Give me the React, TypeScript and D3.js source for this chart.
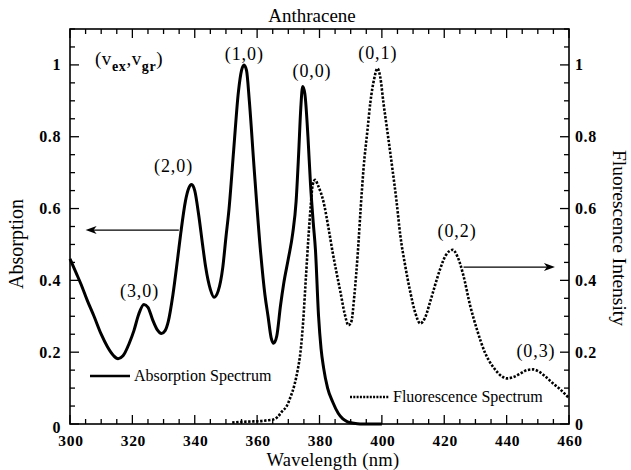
import React from "react";
import * as d3 from "d3";

// ---- data ----
const absWl = [300, 302, 303.5, 305.5, 307.7, 310, 312, 314, 315.4, 317, 319, 320.5, 322, 323.7, 325, 326.5, 328, 329.3, 330.5, 331.5, 333, 334.5, 335.5, 337, 338, 339, 340, 341.3, 342.5, 343.5, 345, 346.2, 347.5, 349, 350, 351, 352.5, 354, 355, 355.8, 356.6, 357.5, 359, 361, 362.5, 363.5, 364.5, 365.3, 366.3, 367.5, 368.5, 370, 371.4, 372.5, 373.3, 374, 374.6, 375.3, 376.3, 377.1, 378, 378.7, 379.7, 380.5, 381.3, 382.6, 384.2, 386, 387.5, 389, 391, 393, 396, 400];
const absVal = [0.46, 0.42, 0.39, 0.345, 0.3, 0.25, 0.215, 0.19, 0.182, 0.19, 0.225, 0.26, 0.305, 0.333, 0.325, 0.29, 0.262, 0.252, 0.26, 0.285, 0.36, 0.46, 0.53, 0.62, 0.655, 0.667, 0.65, 0.58, 0.5, 0.437, 0.375, 0.353, 0.37, 0.437, 0.52, 0.6, 0.765, 0.925, 0.985, 1.0, 0.985, 0.9, 0.717, 0.49, 0.36, 0.3, 0.24, 0.225, 0.245, 0.33, 0.39, 0.46, 0.53, 0.62, 0.75, 0.88, 0.94, 0.92, 0.8, 0.67, 0.56, 0.485, 0.3, 0.21, 0.157, 0.1, 0.062, 0.03, 0.014, 0.006, 0.002, 0, 0, 0];

const fluWl = [352, 355, 358, 361, 363, 365, 366.6, 368, 369.5, 370.7, 372, 373, 373.9, 374.8, 375.5, 376.5, 377.2, 377.8, 378.6, 379.5, 381.3, 383, 384.2, 385.5, 386.7, 388, 389.3, 390.2, 391.2, 392.3, 393.2, 394.1, 395.4, 396.3, 397.5, 398.6, 399.5, 400.5, 402, 403.4, 404.7, 405.9, 407.5, 409.1, 410.7, 412.3, 413.8, 415.5, 417, 418.7, 420.5, 422.7, 424.3, 426.1, 428.3, 430.6, 433, 436, 438.6, 440.2, 442, 444.3, 446.5, 448.5, 450.5, 453, 455, 457.1, 460];
const fluVal = [0.004, 0.006, 0.007, 0.008, 0.01, 0.012, 0.02, 0.035, 0.05, 0.075, 0.11, 0.15, 0.2, 0.29, 0.388, 0.526, 0.61, 0.665, 0.68, 0.665, 0.618, 0.54, 0.479, 0.42, 0.368, 0.31, 0.275, 0.285, 0.36, 0.479, 0.6, 0.709, 0.82, 0.895, 0.96, 0.99, 0.965, 0.895, 0.8, 0.709, 0.62, 0.526, 0.44, 0.368, 0.31, 0.28, 0.295, 0.341, 0.385, 0.432, 0.47, 0.485, 0.465, 0.415, 0.33, 0.26, 0.2, 0.155, 0.132, 0.127, 0.13, 0.14, 0.15, 0.152, 0.145, 0.128, 0.112, 0.097, 0.072];

const xTicks = [300, 320, 340, 360, 380, 400, 420, 440, 460];
const yTicks = [0, 0.2, 0.4, 0.6, 0.8, 1];
const yTickLabels = ["0", "0.2", "0.4", "0.6", "0.8", "1"];

const peakLabels = ["(3,0)", "(2,0)", "(1,0)", "(0,0)", "(0,1)", "(0,2)", "(0,3)"];
const peakLabelWl = [322.3, 333.2, 355.9, 377.6, 398.7, 424.1, 449.4];
const peakLabelVal = [0.354, 0.702, 1.014, 0.967, 1.017, 0.521, 0.187];

const FONT = "'Liberation Serif', 'Times New Roman', serif";

export default function App() {
  const L = 70, R = 569, T = 29, B = 424;
  const x = d3.scaleLinear().domain([300, 460]).range([L, R]);
  const yL = d3.scaleLinear().domain([0, 1.1]).range([B, T]);
  const yR = d3.scaleLinear().domain([0, 1.1]).range([B, T]);

  const absData = absWl.map((w, i) => [w, absVal[i]] as [number, number]);
  const fluData = fluWl.map((w, i) => [w, fluVal[i]] as [number, number]);

  const absLine = d3.line<[number, number]>().x(d => x(d[0])).y(d => yL(d[1])).curve(d3.curveMonotoneX);
  const fluLine = d3.line<[number, number]>().x(d => x(d[0])).y(d => yR(d[1])).curve(d3.curveMonotoneX);

  const xMinor = d3.range(300, 460.01, 5);
  const yMinor = d3.range(0, 1.1001, 0.05);
  const isMajorX = (v: number) => Math.abs(v % 20) < 1e-6;
  const isMajorY = (v: number) => Math.abs(Math.round(v * 100) % 20) < 1e-6;

  const arrowHead = (px: number, py: number, dir: number) => {
    const len = 11, half = 4;
    return `M${px},${py} L${px - dir * len},${py - half} L${px - dir * (len - 3)},${py} L${px - dir * len},${py + half} Z`;
  };

  const lArrow = { x1: x(334.9), x2: x(305), y: yL(0.54) };
  const rArrow = { x1: x(426.2), x2: x(455.5), y: yR(0.437) };

  return (
    <svg width={631} height={470} style={{ position: "absolute", left: 0, top: 0, background: "#fff" }} fontFamily={FONT}>
      {/* title */}
      <text x={312} y={22} textAnchor="middle" fontSize={19}>Anthracene</text>

      {/* curves */}
      <path d={absLine(absData) || ""} fill="none" stroke="#000" strokeWidth={3} strokeLinejoin="round" />
      <path d={fluLine(fluData) || ""} fill="none" stroke="#000" strokeWidth={2.6} strokeDasharray="2.4,1.6" />

      {/* frame */}
      <rect x={L} y={T} width={R - L} height={B - T} fill="none" stroke="#000" strokeWidth={1.6} />

      {/* x ticks bottom & top */}
      {xMinor.map(v => {
        const len = isMajorX(v) ? 9 : 5;
        return (
          <g key={"xt" + v}>
            <line x1={x(v)} x2={x(v)} y1={B} y2={B - len} stroke="#000" strokeWidth={1.3} />
            <line x1={x(v)} x2={x(v)} y1={T} y2={T + len} stroke="#000" strokeWidth={1.3} />
          </g>
        );
      })}
      {xTicks.map(v => (
        <text key={"xl" + v} x={x(v) + 1} y={445.5} textAnchor="middle" fontSize={15.5} fontWeight="bold" letterSpacing={0.7}>{v}</text>
      ))}

      {/* y ticks left & right */}
      {yMinor.map(v => {
        const len = isMajorY(v) ? 9 : 5;
        return (
          <g key={"yt" + v.toFixed(2)}>
            <line x1={L} x2={L + len} y1={yL(v)} y2={yL(v)} stroke="#000" strokeWidth={1.3} />
            <line x1={R} x2={R - len} y1={yR(v)} y2={yR(v)} stroke="#000" strokeWidth={1.3} />
          </g>
        );
      })}
      {yTicks.map((v, i) => (
        <text key={"yl" + v} x={61} y={yL(v) + (v === 0 ? 9 : 5.5)} textAnchor="end" fontSize={16} fontWeight="bold" letterSpacing={0.6}>{yTickLabels[i]}</text>
      ))}
      {yTicks.map((v, i) => (
        <text key={"yr" + v} x={575} y={yR(v) + 5.5} textAnchor="start" fontSize={16} fontWeight="bold" letterSpacing={0.6}>{yTickLabels[i]}</text>
      ))}

      {/* axis titles */}
      <text x={333} y={465.5} textAnchor="middle" fontSize={18.5} letterSpacing={0.3}>Wavelength (nm)</text>
      <text transform={`translate(23,244) rotate(-90)`} textAnchor="middle" fontSize={20}>Absorption</text>
      <text transform={`translate(613,238) rotate(90)`} textAnchor="middle" fontSize={19.5}>Fluorescence Intensity</text>

      {/* peak labels */}
      {peakLabels.map((t, i) => (
        <text key={t} x={x(peakLabelWl[i])} y={yL(peakLabelVal[i])} textAnchor="middle" fontSize={18} letterSpacing={0.9}>{t}</text>
      ))}
      <text x={x(308)} y={yL(1.0)} fontSize={19} letterSpacing={0.6}>
        (v<tspan fontSize={14} fontWeight="bold" dy={6}>ex</tspan><tspan dy={-6}>,v</tspan><tspan fontSize={14} fontWeight="bold" dy={6}>gr</tspan><tspan dy={-6}>)</tspan>
      </text>

      {/* arrows */}
      <line x1={lArrow.x1} x2={lArrow.x2 + 6} y1={lArrow.y} y2={lArrow.y} stroke="#000" strokeWidth={1.3} />
      <path d={arrowHead(lArrow.x2, lArrow.y, -1)} fill="#000" />
      <line x1={rArrow.x1} x2={rArrow.x2 - 6} y1={rArrow.y} y2={rArrow.y} stroke="#000" strokeWidth={1.3} />
      <path d={arrowHead(rArrow.x2, rArrow.y, 1)} fill="#000" />

      {/* legend */}
      <line x1={90} x2={130} y1={376} y2={376} stroke="#000" strokeWidth={2.4} />
      <text x={134} y={381} fontSize={16}>Absorption Spectrum</text>
      <line x1={350} x2={389} y1={397} y2={397} stroke="#000" strokeWidth={2.4} strokeDasharray="2,1.3" />
      <text x={393} y={402} fontSize={16}>Fluorescence Spectrum</text>
    </svg>
  );
}
